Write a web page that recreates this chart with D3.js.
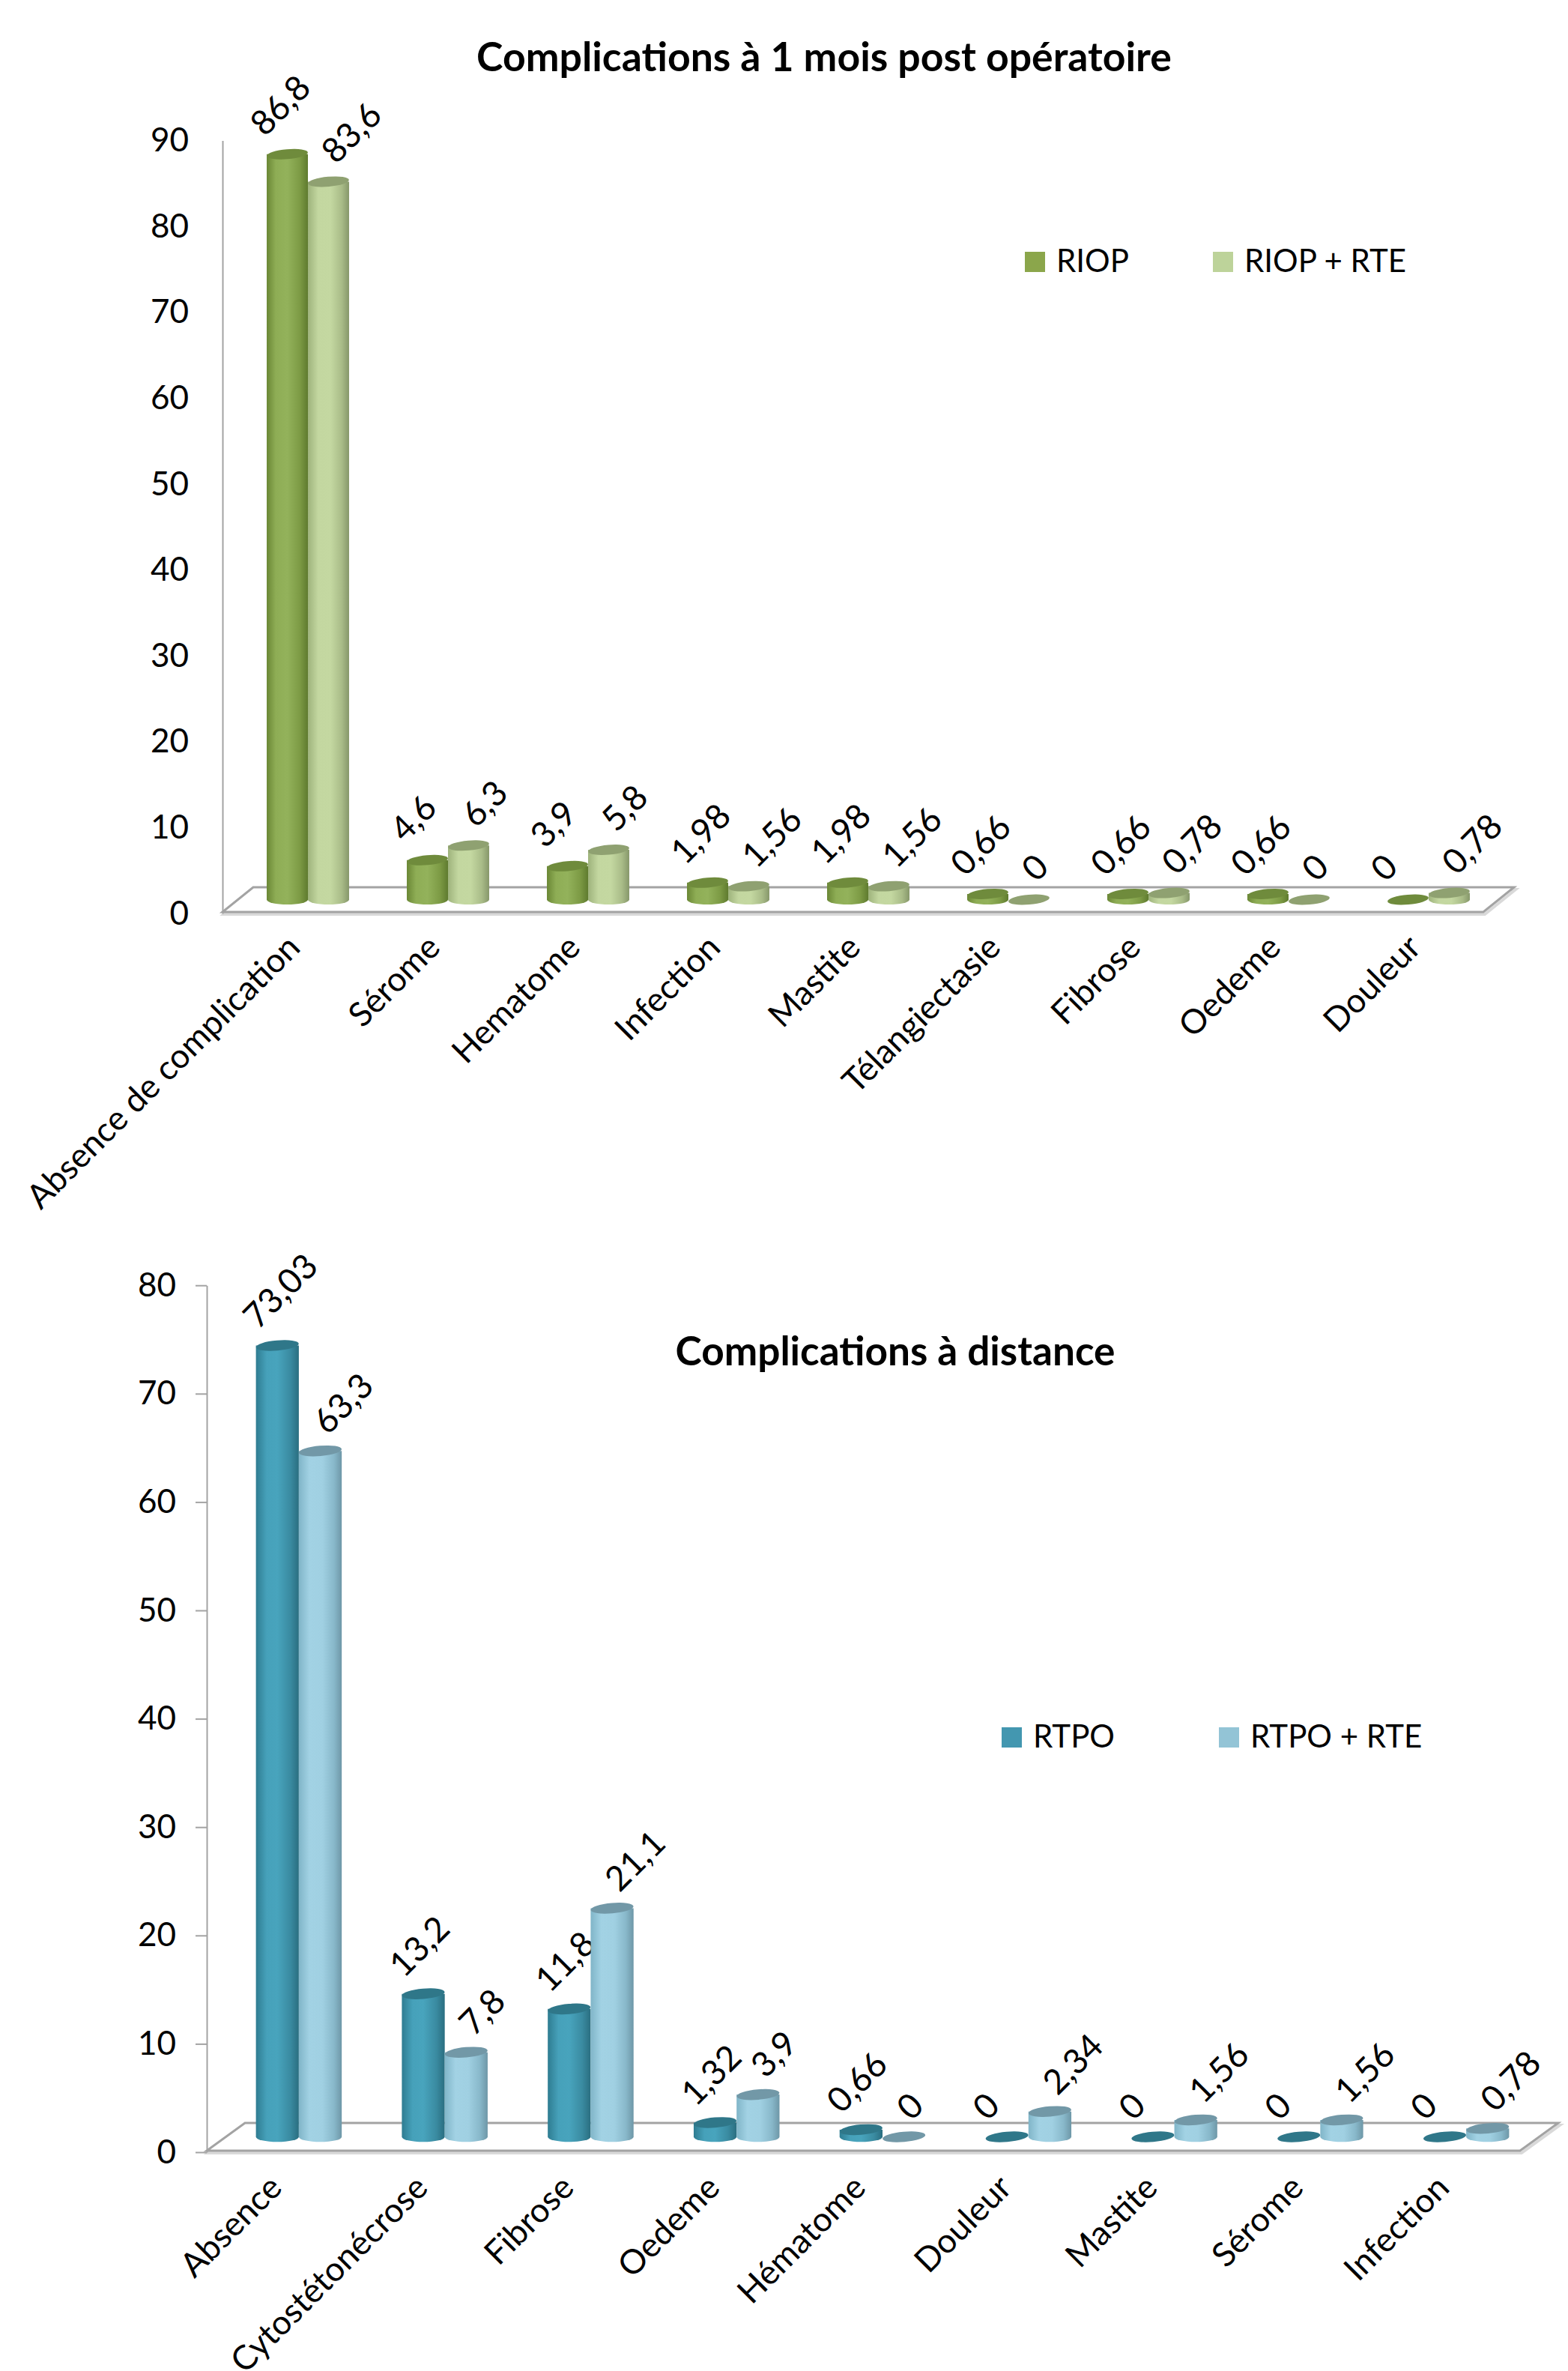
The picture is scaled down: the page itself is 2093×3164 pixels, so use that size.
<!DOCTYPE html>
<html><head><meta charset="utf-8">
<script src="https://cdn.jsdelivr.net/npm/d3@7"></script>
<style>
body{margin:0;background:#fff}
svg text{font-family:Lato,'Open Sans',sans-serif;fill:#000}
</style>
</head><body>
<svg id="c" width="2093" height="3164" xmlns="http://www.w3.org/2000/svg"></svg>
<script>
// ---------- DATA ----------
const title1 = "Complications à 1 mois post opératoire";
const categories1 = ["Absence de complication","Sérome","Hematome","Infection","Mastite","Télangiectasie","Fibrose","Oedeme","Douleur"];
const seriesNames1 = ["RIOP","RIOP + RTE"];
const riop    = [86.8, 4.6, 3.9, 1.98, 1.98, 0.66, 0.66, 0.66, 0];
const riopRte = [83.6, 6.3, 5.8, 1.56, 1.56, 0,    0.78, 0,    0.78];
const ticks1 = [0,10,20,30,40,50,60,70,80,90];

const title2 = "Complications à distance";
const categories2 = ["Absence","Cytostétonécrose","Fibrose","Oedeme","Hématome","Douleur","Mastite","Sérome","Infection"];
const seriesNames2 = ["RTPO","RTPO + RTE"];
const rtpo    = [73.03, 13.2, 11.8, 1.32, 0.66, 0,    0,    0,    0];
const rtpoRte = [63.3,  7.8,  21.1, 3.9,  0,    2.34, 1.56, 1.56, 0.78];
const ticks2 = [0,10,20,30,40,50,60,70,80];

// ---------- STYLE ----------
const pal1 = [
  {legend:"#8BA64B", top:"#6F8B3C", stops:[["0%","#6A8735"],["22%","#8EAD55"],["50%","#93B25B"],["80%","#7D9B45"],["100%","#5F7B2F"]]},
  {legend:"#BDD39A", top:"#8FA171", stops:[["0%","#9EB37C"],["25%","#C3D7A0"],["55%","#C4D8A1"],["82%","#A9BC88"],["100%","#86976A"]]}
];
const pal2 = [
  {legend:"#4397B0", top:"#2F7789", stops:[["0%","#2E7C91"],["25%","#46A1BA"],["50%","#48A4BD"],["80%","#3A8BA1"],["100%","#2A6E80"]]},
  {legend:"#93C4D6", top:"#7298A7", stops:[["0%","#80B5C8"],["25%","#A2D2E4"],["55%","#A0D0E2"],["82%","#88B8CA"],["100%","#6E97A7"]]}
];

const svg = d3.select("#c");
const defs = svg.append("defs");

function fmt(v){ return String(v).replace(".", ","); }

function drawChart(o){
  const g = svg.append("g");
  o.pal.forEach((p,j)=>{
    const gr = defs.append("linearGradient").attr("id", o.id+"g"+j).attr("x1","0").attr("x2","1").attr("y1","0").attr("y2","0");
    p.stops.forEach(s=>gr.append("stop").attr("offset",s[0]).attr("stop-color",s[1]));
  });
  const baseY = (o.frontY + o.backY)/2;
  const dx = o.backX0 - o.frontX0;
  const y = d3.scaleLinear().domain([0,o.yMax]).range([baseY, baseY - o.ppu*o.yMax]);
  const yFront = d3.scaleLinear().domain([0,o.yMax]).range([o.frontY+2, o.frontY+2 - o.ppu*o.yMax]);
  const x = d3.scaleBand().domain(o.categories).range([o.frontX0 + dx/2, o.frontX1 + dx/2]);
  const w = x.bandwidth()*0.294;
  const xs = d3.scaleBand().domain([0,1]).range([x.bandwidth()/2 - w, x.bandwidth()/2 + w]);

  // floor
  const floorPts = [[o.frontX0,o.frontY],[o.frontX1,o.frontY],[o.frontX1+dx,o.backY],[o.backX0,o.backY]];
  g.append("polygon").attr("points", floorPts.map(p=>(p[0]+2)+","+(p[1]+3)).join(" "))
    .attr("fill","none").attr("stroke","#D9D9D9").attr("stroke-width",4);
  g.append("polygon").attr("points", floorPts.map(p=>p.join(",")).join(" "))
    .attr("fill","#fff").attr("stroke","#A3A3A3").attr("stroke-width",3);

  // axis
  const ax = g.append("g").attr("transform", `translate(${o.frontX0},0)`)
    .call(d3.axisLeft(yFront).tickValues(o.ticks).tickSize(o.tickSize).tickSizeOuter(0).tickPadding(o.tickPad));
  ax.select(".domain").attr("stroke","#A3A3A3").attr("stroke-width",2);
  ax.selectAll(".tick line").attr("stroke","#A3A3A3").attr("stroke-width",2);
  ax.selectAll(".tick text").attr("font-size",44).attr("font-family","Lato,'Open Sans',sans-serif").attr("fill","#000");

  // bars
  const ry = w*0.12;
  o.series.forEach((vals,j)=>{
    const bg = g.append("g");
    vals.forEach((v,i)=>{
      const cx = x(o.categories[i]) + xs(j) + w/2;
      const top = y(v), base = y(0);
      if (v > 0) {
        bg.append("path")
          .attr("d", `M${cx-w/2},${top} L${cx-w/2},${base} A${w/2},${ry} 0 0 0 ${cx+w/2},${base} L${cx+w/2},${top} Z`)
          .attr("fill", `url(#${o.id}g${j})`);
      }
      bg.append("ellipse").attr("cx",cx).attr("cy",top).attr("rx",w/2).attr("ry",ry)
        .attr("transform",`rotate(-5,${cx},${top})`)
        .attr("fill", o.pal[j].top);
      const lx = cx + o.lblOff[j][0], ly = top + o.lblOff[j][1];
      g.append("text").attr("x",lx).attr("y",ly)
        .attr("transform",`rotate(-45,${lx},${ly})`)
        .attr("font-size",46).text(fmt(v));
    });
  });

  // category labels
  o.categories.forEach(c=>{
    const lx = x(c) + x.bandwidth()/2 + o.catOff[0], ly = o.frontY + o.catOff[1];
    g.append("text").attr("x",lx).attr("y",ly).attr("text-anchor","end")
      .attr("transform",`rotate(-45,${lx},${ly})`).attr("font-size",45).text(c);
  });

  // title
  const t = g.append("text").attr("x",o.titleX).attr("y",o.titleY).attr("text-anchor","middle")
    .attr("font-weight",700).attr("font-size",50).text(o.title);
  const len = t.node().getComputedTextLength();
  t.attr("font-size", 50*o.titleW/len);

  // legend
  o.seriesNames.forEach((n,j)=>{
    const lx = o.legend[j];
    g.append("rect").attr("x",lx).attr("y",o.legendY-27).attr("width",27).attr("height",27).attr("fill",o.pal[j].legend);
    g.append("text").attr("x",lx+42).attr("y",o.legendY).attr("font-size",42).text(n);
  });
}

drawChart({
  id:"a", title:title1, categories:categories1, seriesNames:seriesNames1, series:[riop,riopRte], ticks:ticks1, pal:pal1,
  yMax:90, ppu:11.46, frontY:1217, backY:1184, frontX0:297, frontX1:1980, backX0:338,
  tickSize:0, tickPad:45, lblOff:[[-30,-22],[10,-22]], catOff:[-8,50],
  titleX:1100, titleY:95, titleW:928, legend:[1368,1619], legendY:363
});
drawChart({
  id:"b", title:title2, categories:categories2, seriesNames:seriesNames2, series:[rtpo,rtpoRte], ticks:ticks2, pal:pal2,
  yMax:80, ppu:14.46, frontY:2870, backY:2833, frontX0:276, frontX1:2029, backX0:327,
  tickSize:15, tickPad:26, lblOff:[[-26,-20],[10,-20]], catOff:[-20,52],
  titleX:1195, titleY:1822, titleW:587, legend:[1337,1627], legendY:2332
});
</script>
</body></html>
